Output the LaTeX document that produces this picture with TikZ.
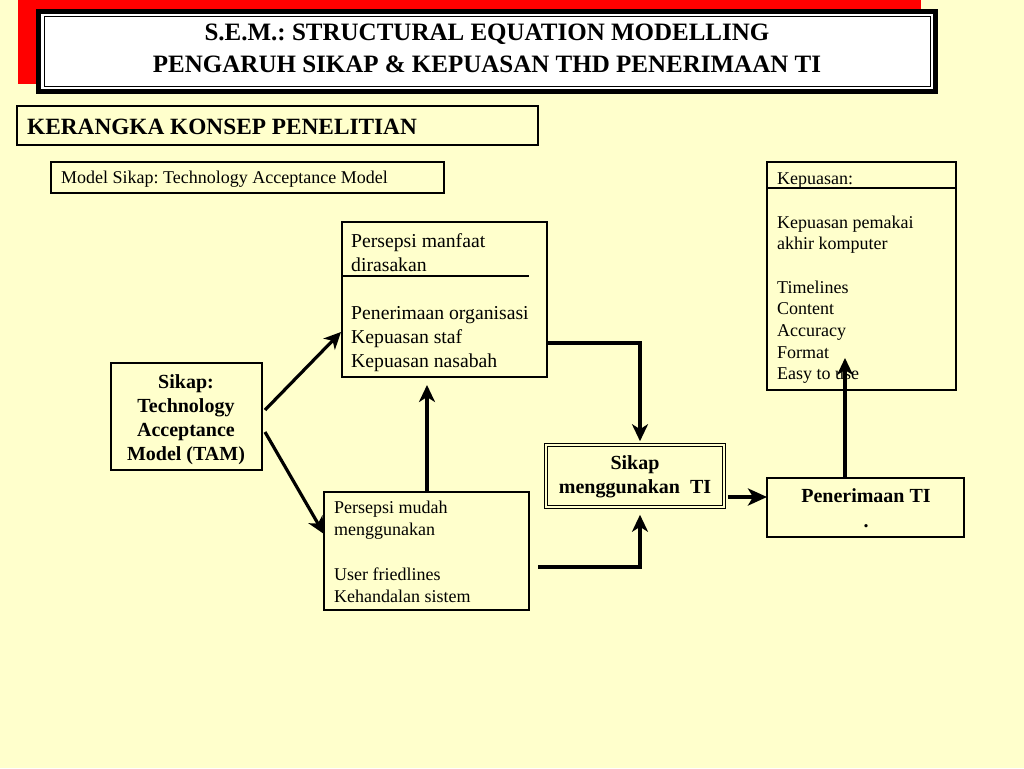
\documentclass[tikz,border=0pt]{standalone}
\usepackage{fontspec}
\setmainfont{Liberation Serif}
\usetikzlibrary{arrows.meta,calc}
\definecolor{bgyellow}{RGB}{255,255,204}
\definecolor{hdrred}{RGB}{255,0,0}
\frenchspacing
\begin{document}
\begin{tikzpicture}[x=1pt,y=-1pt,
  box/.style={draw=black, line width=1.4pt, inner sep=0pt, outer sep=0pt, anchor=north west},
  dbox/.style={draw=black, double=bgyellow, double distance=2pt, line width=1.2pt, inner sep=0pt, outer sep=0pt, anchor=north west},
  small/.style={inner sep=0pt, anchor=base west, font=\fontsize{18}{21.7}\selectfont},
  mid/.style={inner sep=0pt, anchor=base west, font=\fontsize{19.7}{24}\selectfont},
  boldc/.style={inner sep=0pt, anchor=base, font=\bfseries\fontsize{20}{24}\selectfont},
  arr/.style={line width=3.2pt, -{Stealth[length=17pt,width=16pt,inset=5pt]}},
  rule/.style={line width=2.8pt}
]
\fill[bgyellow] (0,0) rectangle (1024,768);
\useasboundingbox (0,0) rectangle (1024,768);

% header
\fill[hdrred] (18,0) rectangle (921,84);
\fill[black] (36,9) rectangle (938,94);
\fill[white] (41,14) rectangle (933,89);
\node[draw=black, fill=white, line width=1pt, inner sep=0pt, outer sep=0pt, minimum width=886, minimum height=69, anchor=north west] (hdr) at (44,17) {};
\node[boldc, font=\bfseries\fontsize{25}{30}\selectfont] (title1) at (487,41) {S.E.M.: STRUCTURAL EQUATION MODELLING};
\node[boldc, font=\bfseries\fontsize{25}{30}\selectfont] (title2) at (487,72) {PENGARUH SIKAP \& KEPUASAN THD PENERIMAAN TI};

% kerangka
\node[box, minimum width=521, minimum height=39] (ker) at (17,106) {};
\node[inner sep=0pt, anchor=base west, font=\bfseries\fontsize{23.3}{28}\selectfont] (kerT) at (27,134) {KERANGKA KONSEP PENELITIAN};

% model sikap
\node[box, minimum width=393, minimum height=31] (mod) at (51,162) {};
\node[small] (modT) at (61,183) {Model Sikap: Technology Acceptance Model};

% kepuasan
\node[box, minimum width=189, minimum height=228] (kep) at (767,162) {};
\draw[rule] ($(kep.north west)+(0,26)$) -- ($(kep.north east)+(0,26)$);
\node[small] (kep0) at (777,184) {Kepuasan:};
\node[small] (kep1) at (777,228) {Kepuasan pemakai};
\node[small] (kep2) at (777,249.7) {akhir komputer};
\node[small] (kep3) at (777,293.1) {Timelines};
\node[small] (kep4) at (777,314.8) {Content};
\node[small] (kep5) at (777,336.5) {Accuracy};
\node[small] (kep6) at (777,358.2) {Format};
\node[small] (kep7) at (777,379.9) {Easy to use};

% persepsi manfaat
\node[box, minimum width=205, minimum height=155] (man) at (342,222) {};
\draw[rule] ($(man.north west)+(0,54)$) -- ($(man.north west)+(187,54)$);
\node[mid] (man1) at (351,247) {Persepsi manfaat};
\node[mid] (man2) at (351,271) {dirasakan};
\node[mid] (man3) at (351,319) {Penerimaan organisasi};
\node[mid] (man4) at (351,343) {Kepuasan staf};
\node[mid] (man5) at (351,367) {Kepuasan nasabah};

% TAM
\node[box, minimum width=151, minimum height=107] (tam) at (111,363) {};
\node[boldc] (tam1) at (186,388) {Sikap:};
\node[boldc] (tam2) at (186,412) {Technology};
\node[boldc] (tam3) at (186,436) {Acceptance};
\node[boldc] (tam4) at (186,460) {Model (TAM)};

% persepsi mudah
\node[box, minimum width=205, minimum height=118] (mud) at (324,492) {};
\node[small] (mud1) at (334,513.5) {Persepsi mudah};
\node[small] (mud2) at (334,535.7) {menggunakan};
\node[small] (mud3) at (334,580.1) {User friedlines};
\node[small] (mud4) at (334,602.3) {Kehandalan sistem};

% sikap menggunakan TI
\node[dbox, minimum width=177.6, minimum height=61.6] (sik) at (546.2,445.2) {};
\node[boldc] (sik1) at (635,469) {Sikap};
\node[boldc] (sik2) at (635,493) {menggunakan\ \ TI};

% penerimaan TI
\node[box, minimum width=197, minimum height=59] (pen) at (767,478) {};
\node[boldc] (pen1) at (866,502) {Penerimaan TI};
\node[boldc] (pen2) at (866,527) {.};

% connectors
\draw[arr] ($(tam.east)+(3,-6.5)$) -- ($(man.west)+(-1,32.5)$);
\draw[arr] ($(tam.east)+(3,15.5)$) -- ($(mud.west)+(0,-17)$);
\coordinate (a3) at (427,385);
\draw[arr] (mud.north -| a3) -- (a3);
\draw[arr] ($(man.east)+(0,43.5)$) -| ($(sik.north)+(5,-4)$);
\draw[arr] ($(mud.east)+(9,16)$) -| ($(sik.south)+(5,8)$);
\draw[line width=4pt, -{Stealth[length=19pt,width=17pt,inset=5pt]}] ($(sik.east)+(4,21)$) -- ($(pen.west)+(0,-10.5)$);
\coordinate (a7) at (845,358);
\draw[arr] (pen.north -| a7) -- (a7);
\end{tikzpicture}
\end{document}
